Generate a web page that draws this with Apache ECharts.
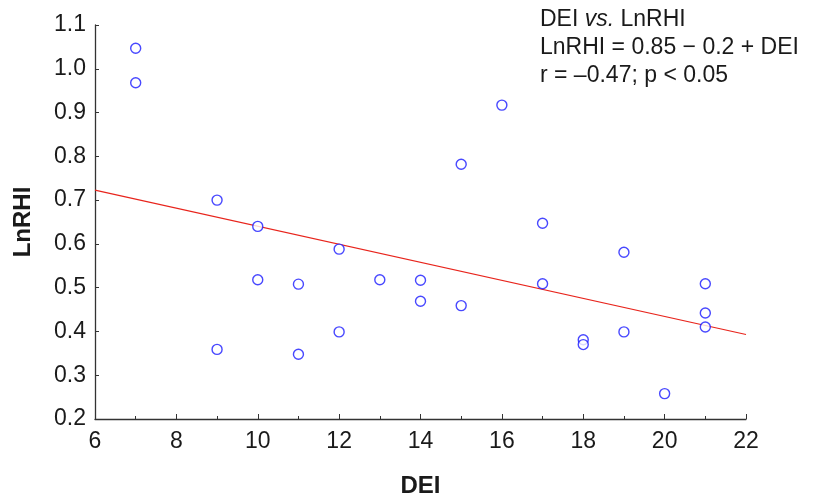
<!DOCTYPE html>
<html>
<head>
<meta charset="utf-8">
<script src="https://cdn.jsdelivr.net/npm/echarts@6/dist/echarts.min.js"></script>
<style>
  html, body { margin: 0; padding: 0; background: #fff; }
  #chart { width: 819px; height: 494px; }
</style>
</head>
<body>
<div id="chart"></div>
<script>
// DEI (x) vs LnRHI (y)
const dei = [7, 7, 9, 9, 10, 10, 11, 11, 12, 12, 13, 14, 14, 15, 15, 16, 17, 17, 18, 18, 19, 19, 20, 21, 21, 21]
const lnrhi = [1.047, 0.968, 0.70, 0.359, 0.64, 0.518, 0.508, 0.348, 0.588, 0.399, 0.518, 0.517, 0.469, 0.782, 0.459, 0.917, 0.647, 0.509, 0.381, 0.370, 0.581, 0.399, 0.258, 0.509, 0.442, 0.410]

// regression line ends
const fitX = [6, 22]
const fitY = [0.723, 0.393]

const annotation = [
  '{n|DEI }{i|vs.}{n| LnRHI}',
  '{n|LnRHI = 0.85 \u2212 0.2 + DEI}',
  '{n|r = \u20130.47; p < 0.05}'
]

const font = 'Liberation Sans, Arial, Helvetica, sans-serif'
const chart = echarts.init(document.getElementById('chart'))

chart.setOption({
  animation: false,
  title: {
    text: annotation.join('\n'),
    left: 535,
    top: 1,
    textStyle: {
      rich: {
        n: { fontFamily: font, fontSize: 23, fontWeight: 'normal', color: '#1a1a1a', lineHeight: 28 },
        i: { fontFamily: font, fontSize: 23, fontWeight: 'normal', color: '#1a1a1a', lineHeight: 28, fontStyle: 'italic' }
      }
    }
  },
  grid: {
    left: 95,
    right: 73,
    top: 25,
    bottom: 75,
    outerBoundsMode: 'none'
  },
  xAxis: {
    type: 'value',
    min: 6,
    max: 22,
    interval: 2,
    name: 'DEI',
    nameLocation: 'middle',
    nameGap: 55,
    nameTextStyle: { fontFamily: font, fontSize: 24, fontWeight: 'bold', color: '#1a1a1a' },
    axisLine: { lineStyle: { color: '#333', width: 1.3 } },
    axisTick: { inside: true, length: 5, lineStyle: { color: '#333' } },
    minorTick: { show: true, splitNumber: 2, length: 3, lineStyle: { color: '#333' } },
    axisLabel: { fontFamily: font, fontSize: 23, color: '#1a1a1a', margin: 11 },
    splitLine: { show: false }
  },
  yAxis: {
    type: 'value',
    min: 0.2,
    max: 1.1,
    interval: 0.1,
    name: 'LnRHI',
    nameLocation: 'middle',
    nameGap: 60,
    nameTextStyle: { fontFamily: font, fontSize: 24, fontWeight: 'bold', color: '#1a1a1a' },
    axisLine: { show: true, lineStyle: { color: '#333', width: 1.3 } },
    axisTick: { show: true, inside: true, length: 4, lineStyle: { color: '#333' } },
    axisLabel: {
      fontFamily: font,
      fontSize: 23,
      color: '#1a1a1a',
      margin: 9,
      formatter: v => v.toFixed(1)
    },
    splitLine: { show: false }
  },
  series: [
    {
      type: 'line',
      data: fitX.map((x, i) => [x, fitY[i]]),
      symbol: 'none',
      lineStyle: { color: '#e8241c', width: 1.2 },
      z: 1
    },
    {
      type: 'scatter',
      data: dei.map((x, i) => [x, lnrhi[i]]),
      symbol: 'circle',
      symbolSize: 10,
      itemStyle: { color: '#fff', borderColor: '#1a1aff', borderWidth: 1.4 },
      z: 2
    }
  ]
})
</script>
</body>
</html>
